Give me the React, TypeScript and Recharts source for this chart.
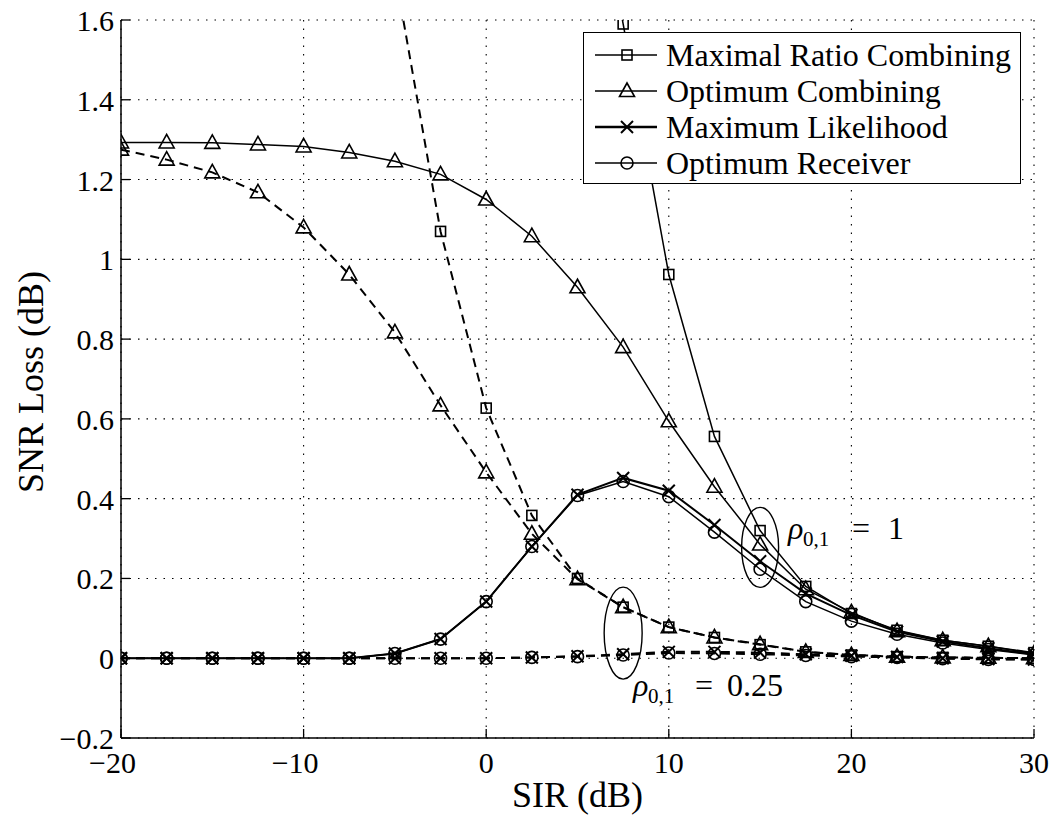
import React from "react";
import { LineChart, Line, XAxis, YAxis, CartesianGrid, ReferenceDot } from "recharts";

const sirDb = [-20, -17.5, -15, -12.5, -10, -7.5, -5, -2.5, 0, 2.5, 5, 7.5, 10, 12.5, 15, 17.5, 20, 22.5, 25, 27.5, 30];

// rho_{0,1} = 1 (solid)
const mrcRho1 = [24, 21.5, 19, 16.5, 14, 11.6, 9.2, 7.0, 5.0, 3.3, 2.2, 1.59, 0.962, 0.556, 0.32, 0.18, 0.112, 0.07, 0.045, 0.03, 0.014];
const ocRho1 = [1.293, 1.293, 1.292, 1.288, 1.283, 1.268, 1.246, 1.213, 1.15, 1.058, 0.93, 0.78, 0.594, 0.43, 0.285, 0.173, 0.115, 0.068, 0.045, 0.03, 0.012];
const mlRho1 = [0, 0, 0, 0, 0, 0, 0.012, 0.048, 0.142, 0.28, 0.41, 0.452, 0.42, 0.334, 0.243, 0.162, 0.108, 0.066, 0.042, 0.025, 0.01];
const orRho1 = [0, 0, 0, 0, 0, 0, 0.012, 0.048, 0.142, 0.28, 0.408, 0.443, 0.405, 0.316, 0.223, 0.142, 0.093, 0.06, 0.038, 0.022, 0.008];

// rho_{0,1} = 0.25 (dashed)
const mrcRho025 = [9.5, 8.2, 6.9, 5.6, 4.3, 2.7, 1.72, 1.07, 0.627, 0.358, 0.2, 0.128, 0.078, 0.052, 0.034, 0.016, 0.008, 0.004, 0.002, 0.001, 0.0];
const ocRho025 = [1.275, 1.25, 1.218, 1.168, 1.08, 0.962, 0.817, 0.634, 0.466, 0.312, 0.198, 0.128, 0.078, 0.052, 0.035, 0.016, 0.008, 0.004, 0.002, 0.001, 0.0];
const mlRho025 = [0, 0, 0, 0, 0, 0, 0, 0, 0, 0.002, 0.005, 0.01, 0.016, 0.016, 0.014, 0.01, 0.006, 0.003, 0.0, -0.002, -0.003];
const orRho025 = [0, 0, 0, 0, 0, 0, 0, 0, 0, 0.002, 0.004, 0.008, 0.013, 0.012, 0.01, 0.007, 0.004, 0.002, -0.001, -0.003, -0.003];

const xTicks = [-20, -10, 0, 10, 20, 30];
const yTicks = [-0.2, 0, 0.2, 0.4, 0.6, 0.8, 1, 1.2, 1.4, 1.6];
const legendNames = ["Maximal Ratio Combining", "Optimum Combining", "Maximum Likelihood", "Optimum Receiver"];
const legendMarkers = ["square", "triangle", "cross", "circle"];

// annotations (data coordinates)
const ellipseRho1 = { x: 15, y: 0.278 };
const ellipseRho025 = { x: 7.5, y: 0.063 };
const labelRho1 = { x: 16.53, y: 0.3, value: "1" };
const labelRho025 = { x: 8.04, y: -0.095, value: "0.25" };

const X_MIN = -20, X_MAX = 30, Y_MIN = -0.2, Y_MAX = 1.6;
const FONT = "'Liberation Serif', 'Times New Roman', serif";

const series = [
  { key: "mrc1", values: mrcRho1, marker: "square", dashed: false, w: 1.5 },
  { key: "oc1", values: ocRho1, marker: "triangle", dashed: false, w: 1.5 },
  { key: "ml1", values: mlRho1, marker: "cross", dashed: false, w: 2 },
  { key: "or1", values: orRho1, marker: "circle", dashed: false, w: 1.5 },
  { key: "mrc025", values: mrcRho025, marker: "square", dashed: true, w: 2 },
  { key: "oc025", values: ocRho025, marker: "triangle", dashed: true, w: 2 },
  { key: "ml025", values: mlRho025, marker: "cross", dashed: true, w: 2 },
  { key: "or025", values: orRho025, marker: "circle", dashed: true, w: 2 },
];

const data = sirDb.map((s, i) => {
  const row: any = { sir: s };
  series.forEach((sr) => (row[sr.key] = sr.values[i]));
  return row;
});

function markerShape(kind: string, cx: number, cy: number, key?: any) {
  const common = { fill: "none", stroke: "#000", strokeWidth: 1.6 };
  switch (kind) {
    case "square":
      return <rect key={key} x={cx - 5} y={cy - 5} width={10} height={10} {...common} />;
    case "triangle":
      return (
        <polygon key={key} points={`${cx},${cy - 8} ${cx - 7.5},${cy + 5.5} ${cx + 7.5},${cy + 5.5}`} {...common} />
      );
    case "cross":
      return (
        <g key={key}>
          <line x1={cx - 6} y1={cy - 6} x2={cx + 6} y2={cy + 6} stroke="#000" strokeWidth={2} />
          <line x1={cx - 6} y1={cy + 6} x2={cx + 6} y2={cy - 6} stroke="#000" strokeWidth={2} />
        </g>
      );
    default:
      return <circle key={key} cx={cx} cy={cy} r={6} {...common} />;
  }
}

const makeDot = (kind: string, dataKey: string) => (props: any) => {
  const { cx, cy, index, payload } = props;
  const v = payload ? payload[dataKey] : undefined;
  if (cx == null || cy == null || v == null || v > Y_MAX || v < Y_MIN) return <g key={`d-${dataKey}-${index}`} />;
  return markerShape(kind, cx, cy, `d-${dataKey}-${index}`);
};

const fmt = (v: number) => (v < 0 ? "\u2212" : "") + String(Math.abs(v));

const BottomTick = (props: any) => {
  const { x, y, payload } = props;
  const label = fmt(payload.value);
  const neg = payload.value < 0;
  return (
    <g>
      <line x1={x} y1={y} x2={x} y2={y - 9} stroke="#000" strokeWidth={1.3} />
      <text x={x + (neg ? -8.5 : 0)} y={y + 35} textAnchor="middle" fontSize={30} fontFamily={FONT} fill="#000">
        {label}
      </text>
    </g>
  );
};

const TopTick = (props: any) => {
  const { x, y } = props;
  return <line x1={x} y1={y} x2={x} y2={y + 9} stroke="#000" strokeWidth={1.3} />;
};

const LeftTick = (props: any) => {
  const { x, y, payload } = props;
  return (
    <g>
      <line x1={x} y1={y} x2={x + 9} y2={y} stroke="#000" strokeWidth={1.3} />
      <text x={x - 7} y={y + 11} textAnchor="end" fontSize={30} fontFamily={FONT} fill="#000">
        {fmt(payload.value)}
      </text>
    </g>
  );
};

const RightTick = (props: any) => {
  const { x, y } = props;
  return <line x1={x} y1={y} x2={x - 9} y2={y} stroke="#000" strokeWidth={1.3} />;
};

const rhoLabel = (value: string, eqOffset: number, valOffset: number) => (p: any) => {
  const { cx, cy } = p;
  if (cx == null) return <g />;
  return (
    <text y={cy} fontFamily={FONT} fontSize={32} fill="#000">
      <tspan x={cx} fontStyle="italic">ρ</tspan>
      <tspan x={cx + 15} dy={7} fontSize={21}>0,1</tspan>
      <tspan x={cx + eqOffset} dy={-7}>=</tspan>
      <tspan x={cx + valOffset}>{value}</tspan>
    </text>
  );
};

const ellipseShape = (rx: number, ry: number) => (p: any) => {
  const { cx, cy } = p;
  if (cx == null) return <g />;
  return <ellipse cx={cx} cy={cy} rx={rx} ry={ry} fill="none" stroke="#000" strokeWidth={1.4} />;
};

const Legend = () => (
  <div
    style={{
      position: "absolute",
      left: 583,
      top: 32,
      width: 438,
      height: 152,
      border: "1.5px solid #000",
      background: "#fff",
      boxSizing: "border-box",
      paddingTop: 4,
    }}
  >
    {legendNames.map((name, i) => (
      <div key={name} style={{ display: "flex", alignItems: "center", height: 36 }}>
        <svg width={80} height={36} style={{ display: "block", flex: "none" }}>
          <line x1={11} y1={18} x2={73} y2={18} stroke="#000" strokeWidth={legendMarkers[i] === "cross" ? 2.4 : 1.5} />
          {markerShape(legendMarkers[i], 43, 18)}
        </svg>
        <span style={{ fontFamily: FONT, fontSize: 32, lineHeight: "36px", color: "#000", marginLeft: 2, whiteSpace: "nowrap" }}>
          {name}
        </span>
      </div>
    ))}
  </div>
);

export default function App() {
  return (
    <div style={{ position: "absolute", left: 0, top: 0, width: 1054, height: 815, background: "#fff" }}>
      <LineChart width={1054} height={815} data={data} margin={{ top: 20, right: 20, bottom: 0, left: 0 }}>
        <CartesianGrid stroke="#000" strokeWidth={1.1} strokeDasharray="1.5 7" />
        <XAxis
          dataKey="sir"
          type="number"
          domain={[X_MIN, X_MAX]}
          ticks={xTicks}
          allowDataOverflow
          interval={0}
          height={77}
          tickSize={0}
          tickMargin={0}
          tickLine={false}
          axisLine={{ stroke: "#000", strokeWidth: 1.5 }}
          tick={<BottomTick />}
          label={{
            content: (p: any) => {
              const vb = p.viewBox || { x: 121, y: 738, width: 913, height: 77 };
              return (
                <text x={vb.x + vb.width / 2} y={vb.y + 69} textAnchor="middle" fontSize={36} fontFamily={FONT} fill="#000">
                  SIR (dB)
                </text>
              );
            },
          }}
        />
        <XAxis
          xAxisId="top"
          orientation="top"
          dataKey="sir"
          type="number"
          domain={[X_MIN, X_MAX]}
          ticks={xTicks}
          interval={0}
          height={0}
          tickSize={0}
          tickMargin={0}
          tickLine={false}
          axisLine={{ stroke: "#000", strokeWidth: 1.5 }}
          tick={<TopTick />}
        />
        <YAxis
          type="number"
          domain={[Y_MIN, Y_MAX]}
          ticks={yTicks}
          allowDataOverflow
          interval={0}
          width={121}
          tickSize={0}
          tickMargin={0}
          tickLine={false}
          axisLine={{ stroke: "#000", strokeWidth: 1.5 }}
          tick={<LeftTick />}
          label={{
            content: (p: any) => {
              const vb = p.viewBox || { x: 0, y: 20, width: 121, height: 718 };
              const cy = vb.y + vb.height / 2 + 3;
              return (
                <text
                  x={43}
                  y={cy}
                  transform={`rotate(-90, 43, ${cy})`}
                  textAnchor="middle"
                  fontSize={36}
                  fontFamily={FONT}
                  fill="#000"
                >
                  SNR Loss (dB)
                </text>
              );
            },
          }}
        />
        <YAxis
          yAxisId="right"
          orientation="right"
          type="number"
          domain={[Y_MIN, Y_MAX]}
          ticks={yTicks}
          allowDataOverflow
          interval={0}
          width={0}
          tickSize={0}
          tickMargin={0}
          tickLine={false}
          axisLine={{ stroke: "#000", strokeWidth: 1.5 }}
          tick={<RightTick />}
        />
        {series.map((s) => (
          <Line
            key={s.key}
            type="linear"
            dataKey={s.key}
            stroke="#000"
            strokeWidth={s.w}
            strokeDasharray={s.dashed ? "9 6" : undefined}
            dot={makeDot(s.marker, s.key)}
            activeDot={false}
            isAnimationActive={false}
          />
        ))}
        <ReferenceDot x={ellipseRho1.x} y={ellipseRho1.y} r={0} shape={ellipseShape(18.5, 40)} />
        <ReferenceDot x={ellipseRho025.x} y={ellipseRho025.y} r={0} shape={ellipseShape(19, 46)} />
        <ReferenceDot x={labelRho1.x} y={labelRho1.y} r={0} shape={rhoLabel(labelRho1.value, 64, 100)} />
        <ReferenceDot x={labelRho025.x} y={labelRho025.y} r={0} shape={rhoLabel(labelRho025.value, 62, 94)} />
      </LineChart>
      <Legend />
    </div>
  );
}
